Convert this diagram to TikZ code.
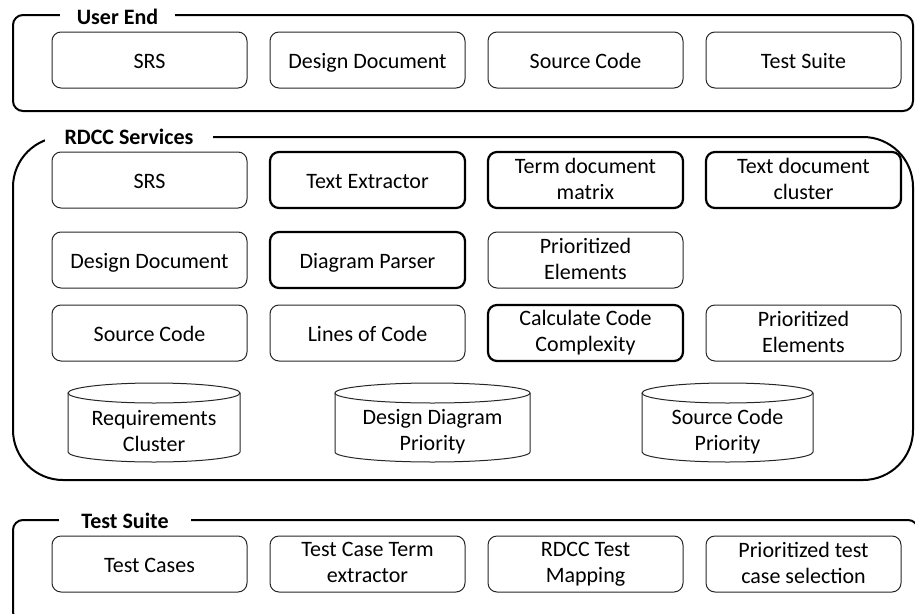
\documentclass[tikz,border=0pt]{standalone}
\usepackage{fontspec}
\setmainfont{Carlito}

% fixed line height so one- and two-line labels sit alike
\newcommand\lblstrut{\rule[-3pt]{0pt}{23pt}}

\tikzset{
  txt/.style={font=\fontsize{22}{26}\selectfont,
    execute at begin node=\lblstrut, execute at end node=\lblstrut},
  blk/.style={txt, draw=black!85, rounded corners=9pt, line width=1pt, minimum width=195pt,
    minimum height=56pt, align=center, inner sep=2pt},
  tblk/.style={blk, draw=black, line width=2.2pt},
  cyl/.style={txt, minimum width=#1, minimum height=62pt, align=center, inner sep=0pt, outer sep=0pt},
  frame/.style={line width=2pt},
  grp/.style={fill=white, font=\fontsize{22}{26}\selectfont\bfseries, inner ysep=3pt},
}

\begin{document}
\begin{tikzpicture}[x=1pt,y=-1pt]
  \clip (0,0) rectangle (915,613);

  % group frames
  \draw[frame, rounded corners=10pt] (13,15) rectangle (913,111);
  \draw[frame, rounded corners=50pt] (13,137) rectangle (913,480);
  \draw[frame, rounded corners=10pt] (13,520) rectangle (918,622);

  \node[grp, inner xsep=17pt] (ue) at (117.5,16.5) {User End};
  \node[grp, inner xsep=20pt] (rdcc) at (129,136.5) {RDCC Services};
  \node[grp, inner xsep=22pt] (ts) at (125,520.5) {Test Suite};

  % user end
  \node[blk] (ue1) at (149.5,60) {SRS};
  \node[blk] (ue2) at (367.5,60) {Design Document};
  \node[blk] (ue3) at (585.5,60) {Source Code};
  \node[blk] (ue4) at (803.5,60) {Test Suite};

  % services
  \node[blk]  (srs)  at (149.5,180) {SRS};
  \node[tblk] (tex)  at (367.5,180) {Text Extractor};
  \node[tblk] (tdm)  at (585.5,180) {Term document\\matrix};
  \node[tblk] (tdc)  at (803.5,180) {Text document\\cluster};

  \node[blk]  (dd)   at (149.5,260) {Design Document};
  \node[tblk] (dp)   at (367.5,260) {Diagram Parser};
  \node[blk]  (pe1)  at (585.5,260) {Prioritized\\Elements};

  \node[blk]  (sc)   at (149.5,333) {Source Code};
  \node[blk]  (loc)  at (367.5,333) {Lines of Code};
  \node[tblk] (ccc)  at (585.5,333) {Calculate Code\\Complexity};
  \node[blk]  (pe2)  at (803.5,333) {Prioritized\\Elements};

  % data stores
  \node[cyl=172pt] (reqc) at (154,432) {Requirements\\Cluster};
  \node[cyl=195pt] (ddp)  at (432.5,432) {Design Diagram\\Priority};
  \node[cyl=171pt] (scp)  at (727.5,432) {Source Code\\Priority};
  \foreach \c/\r in {reqc/86pt, ddp/97.5pt, scp/85.5pt} {
    \draw[line width=1pt, black!85] ([yshift=8pt]\c.north west) -- ([yshift=11pt]\c.south west)
      arc[start angle=180, end angle=360, x radius=\r, y radius=10pt] -- ([yshift=8pt]\c.north east);
    \draw[line width=1pt, black!85] ([yshift=8pt]\c.north) ellipse[x radius=\r, y radius=10pt];
  }

  % test suite
  \node[blk] (tc)  at (149.5,564) {Test Cases};
  \node[blk] (tct) at (367.5,564) {Test Case Term\\extractor};
  \node[blk] (rtm) at (585.5,564) {RDCC Test\\Mapping};
  \node[blk] (pts) at (803.5,564) {Prioritized test\\case selection};
\end{tikzpicture}
\end{document}
